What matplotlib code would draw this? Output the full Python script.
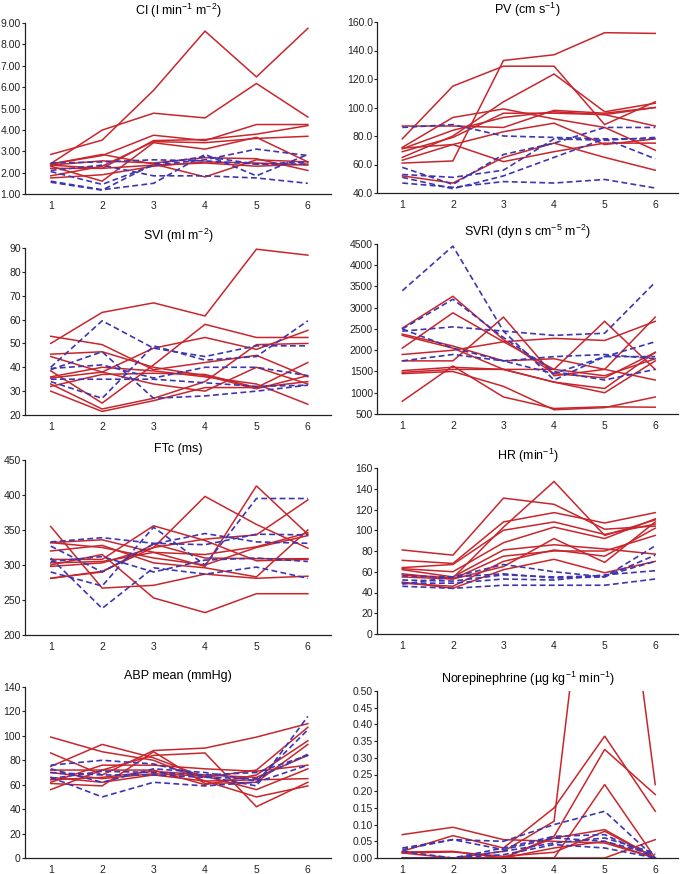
import numpy as np
import matplotlib
matplotlib.use('Agg')
import matplotlib.pyplot as plt

plt.rcParams['font.family'] = ['Liberation Sans', 'DejaVu Sans']
plt.rcParams['mathtext.default'] = 'regular'

# time points
timepoints = [1, 2, 3, 4, 5, 6]

# CI (l/min/m2)
ci_red = [
    [2.85, 3.52, 5.85, 8.62, 6.48, 8.75],
    [2.42, 3.99, 4.78, 4.56, 6.17, 4.60],
    [2.40, 2.80, 3.75, 3.50, 4.25, 4.25],
    [2.35, 2.20, 3.50, 3.55, 3.80, 4.20],
    [1.85, 2.30, 3.45, 3.40, 3.60, 3.70],
    [2.30, 1.60, 3.40, 3.10, 3.65, 2.50],
    [2.40, 2.85, 2.40, 1.80, 2.60, 2.50],
    [2.20, 2.20, 2.35, 2.45, 2.30, 2.40],
    [1.75, 1.90, 2.30, 2.50, 2.45, 2.35],
    [2.35, 2.55, 2.45, 2.70, 2.65, 2.10],
]
ci_blue = [
    [2.45, 2.50, 2.60, 2.55, 2.40, 2.50],
    [2.10, 2.35, 1.85, 1.85, 1.75, 1.50],
    [1.60, 1.20, 1.50, 2.85, 1.85, 2.85],
    [2.05, 1.45, 2.35, 2.60, 3.10, 2.80],
    [1.55, 1.18, 2.40, 2.75, 2.40, 2.40],
]

# PV (cm/s)
pv_red = [
    [78, 115, 129, 129, 88, 104],
    [61, 62.5, 133, 137, 152.5, 152],
    [65, 80, 104, 123.5, 97, 103],
    [72, 93, 99, 92, 86, 70],
    [71, 84, 93, 97, 95, 100],
    [69, 79, 96, 96, 95, 87],
    [63, 74, 83, 89, 74, 78],
    [71.5, 74, 62, 69, 75, 75],
    [87, 87, 86, 98, 96, 100],
    [52, 47, 65, 75, 65, 56],
]
pv_blue = [
    [86, 88, 80, 79, 78, 78],
    [58, 46, 67, 75, 86, 86],
    [53, 51, 56, 78, 77, 79],
    [47, 44, 48, 47, 49.5, 43.5],
    [51, 43, 52, 65, 78, 64],
]

# SVI (ml/m2)
svi_red = [
    [50, 63, 67, 61.5, 89.5, 87],
    [53, 49.5, 39, 42, 45, 36],
    [45.5, 46.5, 40, 36.5, 31, 36.5],
    [44.5, 38, 48, 52.5, 47.5, 55.5],
    [38.5, 25, 41, 58, 52.5, 52.5],
    [36, 40, 38.5, 36, 33, 24.5],
    [35.5, 38, 33, 30, 40, 33],
    [33, 22.5, 27, 34, 49.5, 50],
    [30, 21.5, 26, 31.5, 31.5, 34],
    [32, 37, 37.5, 37, 31.5, 42],
]
svi_blue = [
    [40, 59.5, 48, 44.5, 49, 49],
    [39, 46.5, 27, 28, 30, 32.5],
    [35, 35, 35, 33.5, 32, 32.5],
    [34, 27, 49, 43, 44.5, 59.5],
    [39.5, 41, 35.5, 40, 40, 36.5],
]

# SVRI (dyn s cm-5 m-2)
svri_red = [
    [2520, 3270, 2250, 1450, 1350, 1950],
    [2050, 2880, 2200, 1550, 1400, 1800],
    [2380, 2100, 1750, 1800, 1550, 1300],
    [2350, 2050, 1550, 1250, 1100, 1950],
    [1900, 2000, 2200, 2280, 2230, 2680],
    [1750, 1750, 2780, 1400, 1550, 2780],
    [1520, 1600, 1550, 1550, 2680, 1550],
    [1480, 1550, 1550, 1250, 1000, 1750],
    [1450, 1500, 1150, 600, 650, 900],
    [800, 1630, 900, 630, 670, 660],
]
svri_blue = [
    [3400, 4450, 2450, 1300, 1850, 1850],
    [2500, 3200, 2300, 1500, 1300, 1550],
    [2450, 2550, 2450, 2350, 2400, 3600],
    [1750, 1900, 1750, 1850, 1900, 1800],
    [2500, 2050, 1750, 1450, 1850, 2200],
]

# FTc (ms)
ftc_red = [
    [355, 267, 271, 287, 281, 284],
    [300, 315, 253, 232, 259, 259],
    [281, 291, 325, 398, 358, 324],
    [332, 336, 318, 298, 413, 344],
    [320, 328, 303, 296, 283, 350],
    [308, 308, 356, 335, 306, 308],
    [303, 305, 318, 315, 326, 346],
    [298, 303, 325, 337, 343, 393],
    [281, 290, 330, 310, 309, 309],
    [332, 325, 310, 300, 325, 342],
]
ftc_blue = [
    [333, 339, 331, 329, 344, 343],
    [327, 290, 330, 345, 333, 331],
    [310, 238, 296, 287, 297, 281],
    [290, 270, 354, 300, 395, 395],
    [305, 312, 290, 307, 310, 305],
]

# HR (1/min)
hr_red = [
    [81, 76, 131, 125, 101, 104],
    [71, 68, 108, 117, 107, 117],
    [64, 67, 100, 108, 96, 106],
    [63, 60, 88, 103, 92, 111],
    [62, 55, 81, 86, 82, 77],
    [58, 53, 75, 80, 80, 95],
    [57, 54, 103, 147, 95, 110],
    [55, 53, 65, 92, 69, 108],
    [50, 44, 62, 72, 59, 70],
    [49, 46, 70, 81, 75, 102],
]
hr_blue = [
    [56, 55, 67, 60, 55, 85],
    [52, 51, 57, 55, 56, 70],
    [49, 49, 53, 52, 57, 61],
    [46, 44, 47, 47, 47, 53],
    [48, 55, 58, 54, 55, 76],
]

# ABP mean (mmHg)
abp_red = [
    [99, 87, 80, 63, 50, 59],
    [86, 68, 88, 90, 99, 110],
    [75, 93, 82, 66, 72, 107],
    [56, 72, 84, 86, 42, 62],
    [62, 76, 76, 73, 71, 76],
    [61, 59, 87, 61, 62, 93],
    [70, 65, 69, 67, 56, 73],
    [66, 62, 68, 63, 64, 65],
    [72, 72, 72, 60, 68, 96],
    [64, 66, 71, 68, 66, 84],
]
abp_blue = [
    [76, 80, 77, 67, 59, 116],
    [73, 62, 73, 70, 63, 105],
    [66, 50, 62, 59, 62, 76],
    [65, 71, 70, 68, 70, 84],
    [70, 68, 68, 66, 65, 85],
]

# Norepinephrine (ug/kg/min)
ne_red = [
    [0.070, 0.092, 0.055, 0.050, 0.045, 0.000],
    [0.020, 0.067, 0.030, 0.150, 0.365, 0.140],
    [0.018, 0.020, 0.000, 0.000, 0.220, 0.000],
    [0.015, 0.000, 0.020, 0.110, 1.380, 0.220],
    [0.000, 0.000, 0.000, 0.065, 0.325, 0.190],
    [0.000, 0.000, 0.000, 0.060, 0.085, 0.000],
    [0.015, 0.018, 0.005, 0.017, 0.080, 0.000],
    [0.000, 0.000, 0.000, 0.000, 0.000, 0.055],
    [0.000, 0.000, 0.000, 0.030, 0.050, 0.000],
]
ne_blue = [
    [0.025, 0.055, 0.050, 0.100, 0.140, 0.000],
    [0.000, 0.000, 0.030, 0.065, 0.070, 0.000],
    [0.020, 0.000, 0.020, 0.045, 0.060, 0.015],
    [0.000, 0.000, 0.010, 0.040, 0.030, 0.000],
    [0.030, 0.055, 0.025, 0.060, 0.050, 0.010],
]

titles = [
    'CI (l min$^{-1}$ m$^{-2}$)',
    'PV (cm s$^{-1}$)',
    'SVI (ml m$^{-2}$)',
    'SVRI (dyn s cm$^{-5}$ m$^{-2}$)',
    'FTc (ms)',
    'HR (min$^{-1}$)',
    'ABP mean (mmHg)',
    'Norepinephrine (\u00b5g kg$^{-1}$ min$^{-1}$)',
]

red_c = '#c8262c'
blue_c = '#3d36b0'

# (data, y ticks, tick format)
panels = [
    (ci_red, ci_blue, np.arange(1, 9.01, 1), '{:.2f}'),
    (pv_red, pv_blue, np.arange(40, 160.1, 20), '{:.1f}'),
    (svi_red, svi_blue, np.arange(20, 90.1, 10), '{:.0f}'),
    (svri_red, svri_blue, np.arange(500, 4500.1, 500), '{:.0f}'),
    (ftc_red, ftc_blue, np.arange(200, 450.1, 50), '{:.0f}'),
    (hr_red, hr_blue, np.arange(0, 160.1, 20), '{:.0f}'),
    (abp_red, abp_blue, np.arange(0, 140.1, 20), '{:.0f}'),
    (ne_red, ne_blue, np.arange(0, 0.501, 0.05), '{:.2f}'),
]

W, H = 685, 874
# pixel boxes: left, top, right, bottom
boxes = [
    (25, 23, 331, 194), (377, 22, 678, 193),
    (25, 248, 331, 415), (377, 244, 678, 414),
    (25, 460, 331, 635), (377, 468, 678, 634),
    (25, 687, 331, 858), (377, 691, 678, 858),
]

fig = plt.figure(figsize=(W / 100, H / 100), dpi=100)

for i, (red, blue, yt, fmt) in enumerate(panels):
    l, t, r, b = boxes[i]
    ax = fig.add_axes([l / W, 1 - b / H, (r - l) / W, (b - t) / H])
    for row in red:
        ax.plot(timepoints, row, color=red_c, lw=1.1, solid_joinstyle='miter')
    for row in blue:
        ax.plot(timepoints, row, color=blue_c, lw=1.2, linestyle=(0, (3.5, 2)))
    ax.set_xlim(0.5, 6.45)
    ax.set_ylim(yt[0], yt[-1])
    ax.set_yticks(yt)
    ax.set_yticklabels([fmt.format(v) for v in yt])
    ax.set_xticks(timepoints)
    ax.tick_params(axis='y', length=2, width=0.8, pad=1, labelsize=7.5, colors='#222222')
    ax.tick_params(axis='x', length=0, pad=5, labelsize=7.5, colors='#222222')
    for s in ['top', 'right']:
        ax.spines[s].set_visible(False)
    for s in ['left', 'bottom']:
        ax.spines[s].set_linewidth(0.9)
        ax.spines[s].set_color('#222222')
    ax.set_title(titles[i], fontsize=9, pad=6)

fig.savefig('out.png', dpi=100)
